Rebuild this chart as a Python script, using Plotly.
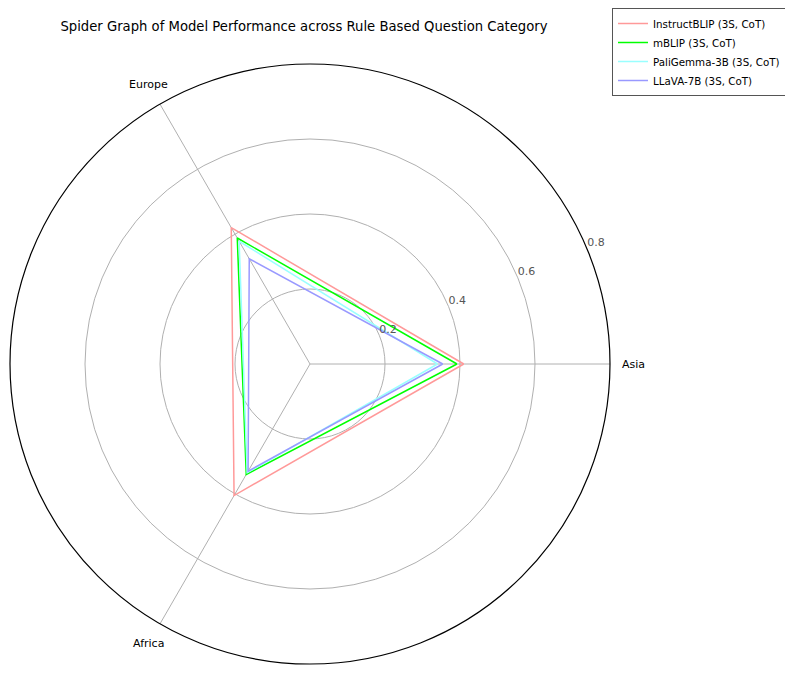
""" Spider graph of model performance per region """

import math
import plotly.graph_objects as go

categories = ["Asia", "Europe", "Africa"]
angles = [0, 120, 240]

models = ["InstructBLIP (3S, CoT)", "mBLIP (3S, CoT)",
          "PaliGemma-3B (3S, CoT)", "LLaVA-7B (3S, CoT)"]
instructblip = [0.41, 0.42, 0.405]
mblip = [0.392, 0.388, 0.34]
paligemma = [0.34, 0.378, 0.335]
llava = [0.354, 0.324, 0.33]

radial_ticks = [0.2, 0.4, 0.6, 0.8]

colors = ["rgb(255,153,153)", "rgb(0,255,0)",
          "rgb(153,255,255)", "rgb(153,153,255)"]

W, H = 793, 673
RMAX = 0.8
LABEL_ANGLE = 22.5
# polar centre / label ring in paper pixels (matches the domain below)
CX, CY, R_LABEL = 302, 356, 323

fig = go.Figure()

for name, vals, c in zip(models, [instructblip, mblip, paligemma, llava], colors):
    fig.add_trace(go.Scatterpolar(
        r=vals + vals[:1],
        theta=angles + angles[:1],
        mode="lines",
        name=name,
        line=dict(color=c, width=1.5),
    ))

# radial tick labels, horizontal, just right of the 22.5 deg line
fig.add_trace(go.Scatterpolar(
    r=radial_ticks, theta=[LABEL_ANGLE] * len(radial_ticks),
    mode="text", text=[str(t) for t in radial_ticks],
    textposition="top right", textfont=dict(size=11, color="#555"),
    showlegend=False, hoverinfo="skip", cliponaxis=False,
))

# category labels centred just outside the outer ring
for cat, a in zip(categories, angles):
    x = CX + R_LABEL * math.cos(math.radians(a))
    y = CY - R_LABEL * math.sin(math.radians(a))
    fig.add_annotation(x=x / W, y=1 - y / H, xref="paper", yref="paper",
                       text=cat, showarrow=False, xanchor="center", yanchor="middle",
                       font=dict(size=11, color="black"))

fig.update_layout(
    width=W, height=H,
    margin=dict(l=0, r=0, t=0, b=0),
    paper_bgcolor="white",
    font=dict(family="DejaVu Sans", size=11, color="black"),
    title=dict(text="Spider Graph of Model Performance across Rule Based Question Category",
               x=296 / W, xanchor="center", y=1 - 18 / H, yanchor="middle",
               font=dict(size=13.2, color="black")),
    showlegend=True,
    legend=dict(x=604 / W, y=1, xanchor="left", yanchor="top",
                bordercolor="#555", borderwidth=1, bgcolor="white",
                font=dict(size=10.3), tracegroupgap=0, itemwidth=30),
    polar=dict(
        domain=dict(x=[2 / W, 602 / W], y=[1 - 656 / H, 1 - 56 / H]),
        bgcolor="white",
        radialaxis=dict(
            range=[0, RMAX], tickvals=radial_ticks,
            showticklabels=False,
            angle=LABEL_ANGLE,
            showline=False, ticks="",
            gridcolor="#b0b0b0", gridwidth=1,
        ),
        angularaxis=dict(
            tickvals=angles, showticklabels=False,
            direction="counterclockwise", rotation=0,
            showline=True, linecolor="black", linewidth=1.2,
            gridcolor="#b0b0b0", gridwidth=1, ticks="",
        ),
    ),
)

fig.write_html("out.html")
